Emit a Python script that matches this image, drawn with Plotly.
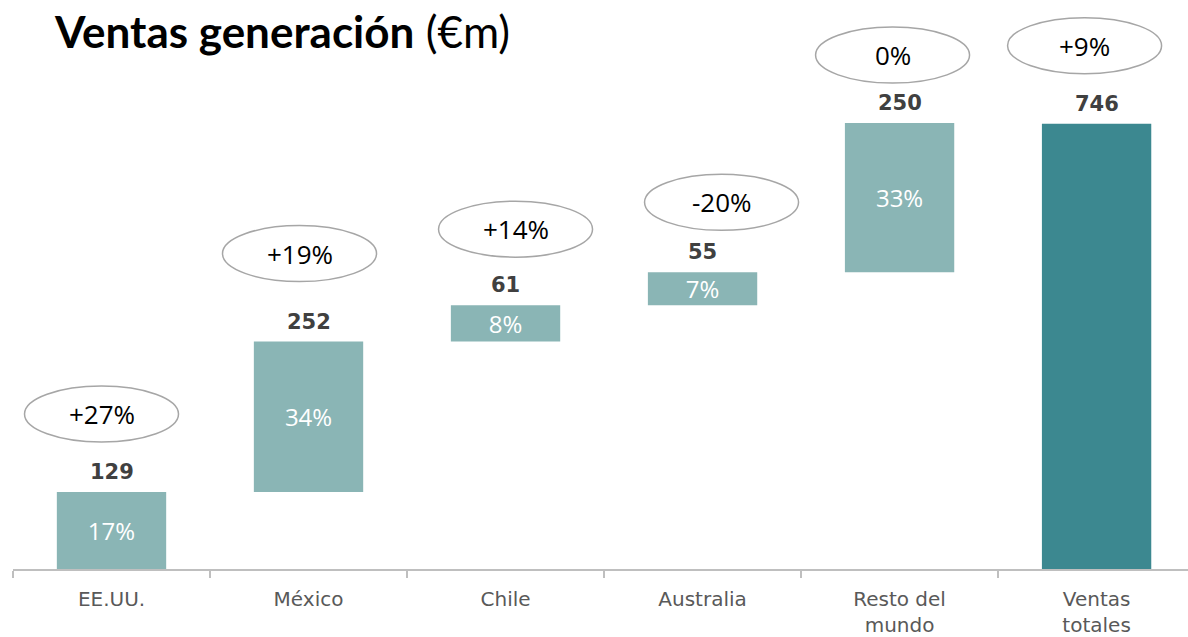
import plotly.graph_objects as go

categories = ["EE.UU.", "México", "Chile", "Australia", "Resto del<br>mundo", "Ventas<br>totales"]
values = [129, 252, 61, 55, 250]
total_value = 746
shares = ["17%", "34%", "8%", "7%", "33%"]
growth = ["+27%", "+19%", "+14%", "-20%", "0%", "+9%"]

# layout nudges (pixels) for the growth ellipses
ell_dx = [-10, -9, 10, 19, -7, -12]
ell_dy = [78, 88, 76, 70, 68, 78]

bases = []
acc = 0
for v in values:
    bases.append(acc)
    acc += v
bar_vals = values + [total_value]
bar_bases = bases + [0]
tops = [b + v for b, v in zip(bar_bases, bar_vals)]

light = "#8AB5B5"
dark = "#3C8890"
colors = [light] * len(values) + [dark]

W, H = 1188, 637

fig = go.Figure()
fig.add_trace(go.Bar(
    x=categories, y=bar_vals, base=bar_bases, width=0.555,
    marker=dict(color=colors, line=dict(width=0)),
    text=shares + [""], textposition="inside", insidetextanchor="middle",
    constraintext="none", textangle=0,
    textfont=dict(family="Open Sans", size=24, color="white"),
    hoverinfo="skip", showlegend=False, cliponaxis=False,
))

for i, cat in enumerate(categories):
    fig.add_annotation(x=cat, y=tops[i], xref="x", yref="y", text=f"<b>{bar_vals[i]}</b>",
                       showarrow=False, yanchor="bottom", yshift=6,
                       font=dict(family="DejaVu Sans", size=21, color="#404040"))
    fig.add_shape(type="circle", xref="x", yref="y", xsizemode="pixel", ysizemode="pixel",
                  xanchor=i, yanchor=tops[i],
                  x0=ell_dx[i] - 77, x1=ell_dx[i] + 77,
                  y0=ell_dy[i] - 28, y1=ell_dy[i] + 28,
                  line=dict(color="#A6A6A6", width=1.5), fillcolor="rgba(0,0,0,0)")
    fig.add_annotation(x=cat, y=tops[i], xref="x", yref="y", text=growth[i],
                       showarrow=False, xshift=ell_dx[i], yshift=ell_dy[i],
                       font=dict(family="Open Sans", size=26, color="black"))

fig.update_layout(
    width=W, height=H,
    margin=dict(l=13, r=0, t=12, b=62),
    paper_bgcolor="white", plot_bgcolor="white",
    title=dict(text="<b>Ventas generación</b> (€m)", x=55 / W, xanchor="left",
               y=1 - 33 / H, yanchor="middle",
               font=dict(family="Lato", size=44, color="black")),
    xaxis=dict(type="category", range=[-0.5, 5.464],
               showline=True, linecolor="#BFBFBF", linewidth=2,
               showgrid=False, zeroline=False,
               ticks="outside", ticklen=7, tickwidth=1.5, tickcolor="#BFBFBF",
               tickson="boundaries", ticklabelstandoff=11,
               tickfont=dict(family="DejaVu Sans", size=20, color="#595959")),
    yaxis=dict(range=[0, 933], visible=False, showgrid=False, zeroline=False),
)

fig.write_html("out.html", config={"displayModeBar": False, "staticPlot": True})

# remove the browser's default 8px body margin so the figure fills the window
with open("out.html", "r", encoding="utf-8") as f:
    html = f.read()
html = html.replace("<head>", "<head><style>html,body{margin:0;padding:0;overflow:hidden;}</style>", 1)
with open("out.html", "w", encoding="utf-8") as f:
    f.write(html)
